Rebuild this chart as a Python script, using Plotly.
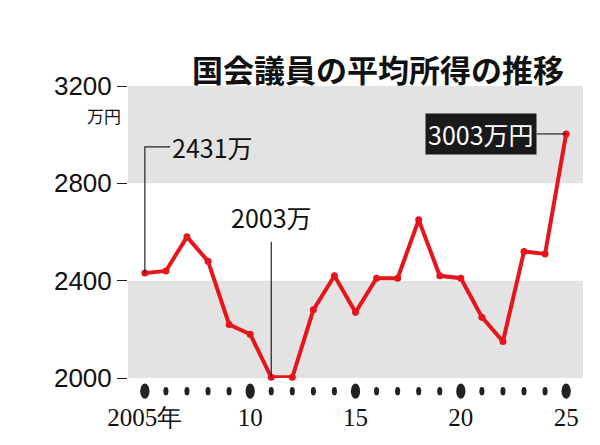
import plotly.graph_objects as go

years = list(range(2005, 2026))
income = [2431, 2440, 2580, 2480, 2220, 2180, 2003, 2003, 2280, 2420, 2270, 2410, 2410,
          2650, 2420, 2410, 2250, 2150, 2520, 2510, 3003]
yticks = [2000, 2400, 2800, 3200]
xticks = [2005, 2010, 2015, 2020, 2025]
xlabels = ["2005年", "10", "15", "20", "25"]

F = "Noto Sans CJK JP"
fig = go.Figure()
for lo, hi in [(2000, 2400), (2800, 3200)]:
    fig.add_shape(type="rect", xref="x", yref="y", x0=2004.2, x1=2025.8, y0=lo, y1=hi,
                  fillcolor="#e3e3e3", line_width=0, layer="below")
for yr in years:
    r = 0.22 if yr in xticks else 0.12
    fig.add_shape(type="circle", xref="x", yref="paper", x0=yr - r, x1=yr + r,
                  y0=-0.045 - r * 0.12, y1=-0.045 + r * 0.12,
                  fillcolor="#222", line_width=0)
fig.add_trace(go.Scatter(x=years, y=income, mode="lines+markers",
                         line=dict(color="#e8141c", width=4),
                         marker=dict(color="#e8141c", size=7), cliponaxis=False))
# leader lines
fig.add_trace(go.Scatter(x=[2005, 2005, 2006.2], y=[income[0], 2950, 2950], mode="lines",
                         line=dict(color="#222", width=1.2)))
fig.add_trace(go.Scatter(x=[2011, 2011], y=[2003, 2560], mode="lines",
                         line=dict(color="#222", width=1.2)))
fig.add_trace(go.Scatter(x=[2023.6, 2025], y=[3003, 3003], mode="lines",
                         line=dict(color="#222", width=1.2)))
fig.add_annotation(x=2006.2, y=2950, text="2431万", showarrow=False, xanchor="left",
                   font=dict(family=F, size=25, color="#111"))
fig.add_annotation(x=2011, y=2660, text="2003万", showarrow=False,
                   font=dict(family=F, size=25, color="#111"))
fig.add_annotation(x=2023.6, y=3003, text="3003万円", showarrow=False, xanchor="right",
                   bgcolor="#1a1a1a", borderpad=2,
                   font=dict(family=F, size=25, color="white"))
fig.add_annotation(xref="paper", yref="y", x=-0.01, y=3080, text="万円", showarrow=False,
                   xanchor="right", font=dict(family=F, size=17, color="#111"))
fig.add_annotation(xref="paper", yref="paper", x=0.55, y=1.0, yshift=42,
                   text="<b>国会議員の平均所得の推移</b>",
                   showarrow=False, font=dict(family=F, size=31, color="#111"))

fig.update_layout(
    width=600, height=445, margin=dict(l=120, r=25, t=78, b=75),
    paper_bgcolor="white", plot_bgcolor="white", showlegend=False,
    xaxis=dict(range=[2004.2, 2025.8], tickvals=xticks, ticktext=xlabels, showgrid=False,
               zeroline=False, showline=False, ticks="", ticklabelstandoff=22,
               tickfont=dict(family="Liberation Serif", size=25, color="#111")),
    yaxis=dict(range=[2000, 3200], tickvals=yticks, showgrid=False, zeroline=False,
               ticks="outside", ticklen=10, tickcolor="#222", showline=False,
               tickfont=dict(family="Liberation Sans", size=26, color="#111")),
)
fig.write_html("out.html")
